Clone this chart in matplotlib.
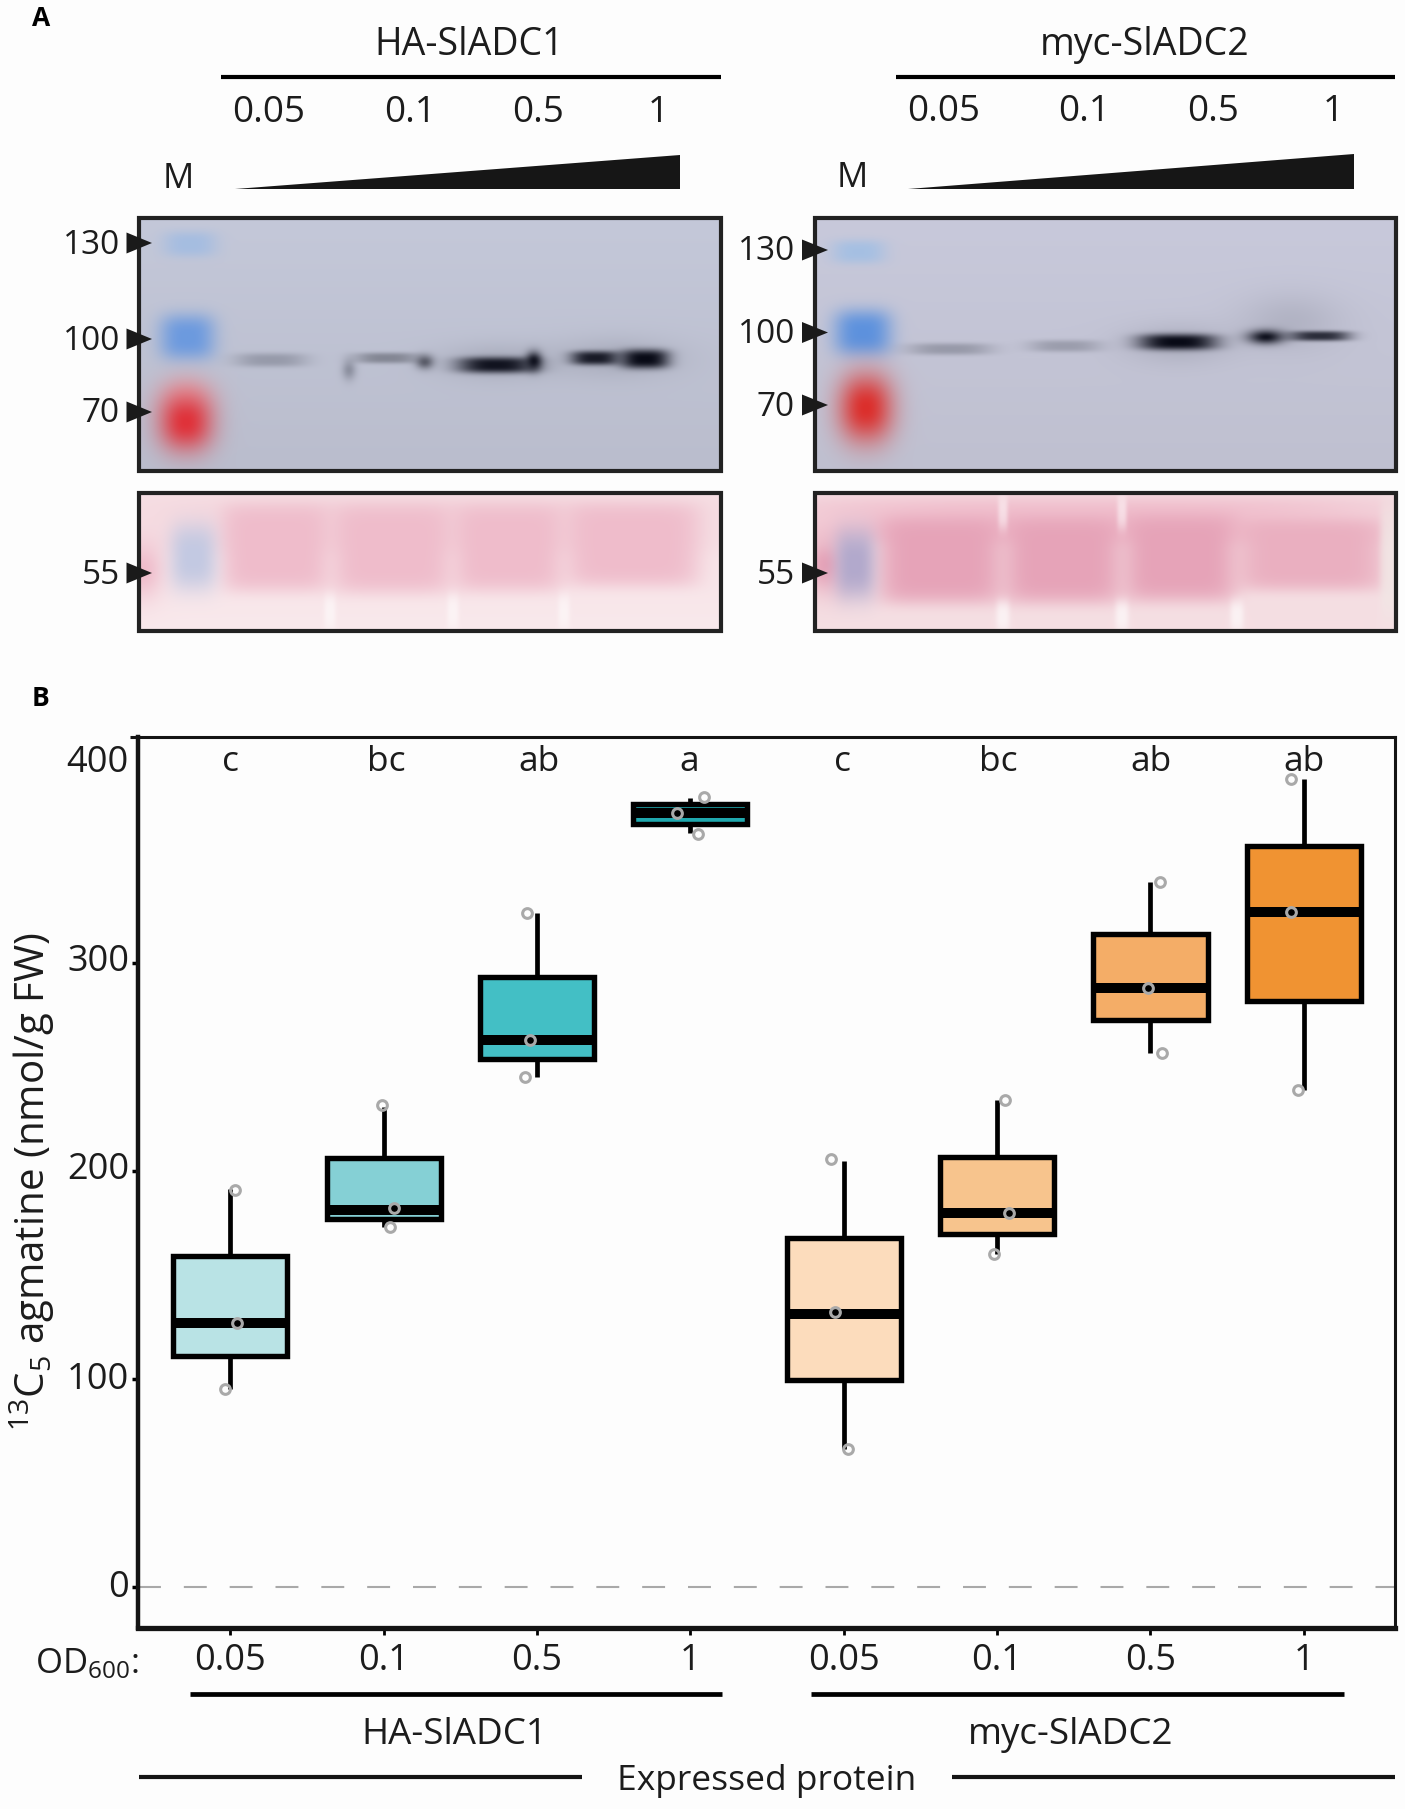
import numpy as np
import matplotlib
matplotlib.use("Agg")
import matplotlib.pyplot as plt
from matplotlib.colors import to_rgb
from matplotlib.patches import Polygon, Rectangle
from matplotlib.transforms import ScaledTranslation

plt.rcParams.update({
    "font.family": ["Open Sans", "DejaVu Sans"],
    "mathtext.fontset": "custom",
    "mathtext.rm": "Open Sans",
    "mathtext.default": "regular",
})

W, H = 1405, 1809
INK = "#1c1c1c"

# panel B values (nmol/g FW)
positions = [1, 2, 3, 4, 5, 6, 7, 8]
od_labels = ["0.05", "0.1", "0.5", "1", "0.05", "0.1", "0.5", "1"]
letters = ["c", "bc", "ab", "a", "c", "bc", "ab", "ab"]
letter_x = [1.0, 2.02, 3.015, 3.99, 4.995, 6.005, 7.005, 8.0]
q1 = [111, 177, 254, 367, 99.5, 169.5, 272.5, 282]
med = [127, 181.5, 263, 372, 131.5, 180, 288, 324.5]
q3 = [159, 206.5, 293.5, 376.5, 168, 207, 314, 356.5]
whislo = [95, 173, 245, 362.5, 66.5, 160, 257, 239]
whishi = [191.5, 231, 324, 379.5, 205, 234, 339, 388.5]
colors = ["#b9e3e5", "#85d0d5", "#43bfc5", "#1fa8ae", "#fcdcbc", "#f7c48d", "#f4ad67", "#f09332"]

point_x = [1.03, 1.045, 0.966, 1.987, 2.068, 2.043, 2.937, 2.952, 2.924, 4.09, 3.91, 4.05,
           4.917, 4.942, 5.03, 6.054, 6.08, 5.982, 7.062, 6.982, 7.076, 7.918, 7.918, 7.965]
point_y = [191, 127, 95, 232, 182, 173, 324, 263, 245, 380, 372, 362,
           206, 132, 66.5, 234, 180, 160, 339, 288, 257, 388.5, 324.5, 239]

# panel A labels
lane_labels = ["0.05", "0.1", "0.5", "1"]
ladder_labels = ["130", "100", "70"]


def render(ov, x0, x1, y0, y1, top, bottom, blobs):
    # fake the blot photo: a background gradient with soft blobs on top
    xx, yy = np.meshgrid(np.arange(x0, x1) + 0.5, np.arange(y0, y1) + 0.5)
    t = ((yy - y0) / (y1 - y0))[..., None]
    img = np.array(to_rgb(top)) * (1 - t) + np.array(to_rgb(bottom)) * t
    for cx, cy, sx, sy, col, a, p in blobs:
        m = a * np.exp(-((np.abs(xx - cx) / sx) ** p + (np.abs(yy - cy) / sy) ** p))[..., None]
        img = img * (1 - m) + np.array(to_rgb(col)) * m
    ov.imshow(img, extent=(x0, x1, y1, y0), aspect="auto", interpolation="bilinear", zorder=1)
    ov.add_patch(Rectangle((x0, y0), x1 - x0, y1 - y0, fill=False, ec="#222222", lw=3, zorder=3))


fig = plt.figure(figsize=(W / 100, H / 100), dpi=100, facecolor="#fdfdfd")

# overlay in picture pixels for panel A and the annotations
ov = fig.add_axes([0, 0, 1, 1], zorder=0)
ov.axis("off")

DARK = "#080a16"
render(ov, 139, 721, 218, 471, "#c4c8d9", "#babdcd", [
    (190, 244, 27, 13, "#a2bce2", 0.9, 3),
    (187.5, 337, 28, 23, "#6c9adf", 1, 3),
    (186, 396, 26, 20, "#e6a0a8", 0.75, 2),
    (186, 422, 27, 29, "#e0323a", 1, 2.2),
    (271, 360, 36, 7, "#7d8190", 0.6, 3),
    (349, 370, 7, 10, "#7d8190", 0.75, 2),
    (387, 358, 32, 5.5, "#70737f", 0.75, 3),
    (425, 362, 9, 7, "#4a4c58", 0.9, 2),
    (497, 362, 56, 18, "#9699a8", 0.5, 2),
    (497, 365, 39, 8, DARK, 0.95, 3),
    (534, 361, 8, 9, DARK, 1, 2),
    (617, 358, 60, 20, "#9699a8", 0.5, 2),
    (595, 358, 24, 7, DARK, 0.9, 3),
    (645, 359, 24, 9.5, DARK, 1, 3),
])
render(ov, 815, 1396, 218, 471, "#c8c9db", "#bfc0d0", [
    (858.7, 251.7, 27, 12, "#a2bfe4", 0.9, 3),
    (863, 332.5, 29, 23, "#5d92de", 1, 3),
    (866, 408, 27, 34, "#dc2f2c", 1, 2.2),
    (950, 349, 42, 6, "#7b7e8c", 0.6, 3),
    (1065, 346, 36, 6, "#7b7e8c", 0.55, 3),
    (1178, 344, 52, 20, "#9a9cac", 0.5, 2),
    (1178, 342, 39, 8, DARK, 1, 3),
    (1291, 322, 50, 28, "#a0a2b2", 0.5, 2),
    (1266, 337, 18, 7, DARK, 0.95, 2),
    (1320, 336, 30, 5, DARK, 0.8, 3),
])
PINK1 = "#efbccb"
render(ov, 139, 721, 493, 631, "#f6dfe4", "#f9e9ec", [
    (430, 525, 290, 28, "#f3d2da", 0.8, 4),
    (276, 548, 54, 44, PINK1, 1, 6),
    (392, 549, 61, 45, PINK1, 1, 6),
    (508, 548, 55, 44, PINK1, 1, 6),
    (632, 545, 68, 42, PINK1, 1, 6),
    (330, 612, 6, 18, "#ffffff", 0.5, 3),
    (453, 612, 6, 18, "#ffffff", 0.5, 3),
    (564, 612, 6, 18, "#ffffff", 0.5, 3),
    (143, 570, 20, 28, PINK1, 1, 2),
    (193.5, 557, 24, 34, "#c3c9e2", 1, 3),
])
PINK2 = "#e6a3b8"
render(ov, 815, 1396, 493, 631, "#f5dde2", "#f5dfe3", [
    (1090, 520, 310, 24, "#f0bccb", 0.9, 4),
    (941, 560, 63, 44, PINK2, 1, 6),
    (1063, 560, 60, 44, PINK2, 1, 6),
    (1180, 558, 57, 44, PINK2, 1, 6),
    (1310, 555, 76, 36, "#eaafc0", 1, 6),
    (1003, 512, 5, 18, "#ffffff", 0.5, 3),
    (1122, 512, 5, 18, "#ffffff", 0.5, 3),
    (1003, 616, 7, 16, "#ffffff", 0.6, 3),
    (1122, 616, 7, 16, "#ffffff", 0.6, 3),
    (1237, 616, 7, 16, "#ffffff", 0.6, 3),
    (825, 565, 20, 28, PINK2, 1, 2),
    (855, 564, 21, 36, "#b2a9cc", 1, 3),
    (1392, 560, 12, 60, "#f1e8e6", 0.8, 4),
])

ov.set_xlim(0, W)
ov.set_ylim(H, 0)

# panel A annotations
ov.text(41.5, 19, "A", fontsize=19, fontweight="bold", ha="center", va="center", color="black")
ov.text(41, 699, "B", fontsize=19, fontweight="bold", ha="center", va="center", color="black")
ov.text(469.6, 45, "HA-SlADC1", fontsize=27, ha="center", va="center", color=INK)
ov.text(1145, 45, "myc-SlADC2", fontsize=27, ha="center", va="center", color=INK)
ov.plot([221, 720.6], [77.4, 77.4], color="black", lw=3, solid_capstyle="butt")
ov.plot([895.6, 1395], [77, 77], color="black", lw=3, solid_capstyle="butt")
for lab, x1, x2 in zip(lane_labels, [269, 409.6, 538, 658], [943.6, 1084, 1213, 1333.7]):
    ov.text(x1, 113, lab, fontsize=26.5, ha="center", va="center", color=INK)
    ov.text(x2, 112, lab, fontsize=26.5, ha="center", va="center", color=INK)
ov.text(178.4, 179, "M", fontsize=25, ha="center", va="center", color=INK)
ov.text(852, 178, "M", fontsize=25, ha="center", va="center", color=INK)
ov.add_patch(Polygon([(234.5, 189.4), (679.6, 189.4), (679.6, 154.5)], fc="#161616", ec="none"))
ov.add_patch(Polygon([(908.4, 188.5), (1354, 188.5), (1354, 153.6)], fc="#161616", ec="none"))


def ladder(labels, ys, right, tip_from, tip_to):
    for lab, y in zip(labels, ys):
        ov.text(right, y + 2, lab, fontsize=24, ha="right", va="center", color=INK)
        ov.add_patch(Polygon([(tip_from, y - 10.5), (tip_from, y + 10.5), (tip_to, y)],
                             fc="#1a1a1a", ec="none", zorder=4))


ladder(ladder_labels + ["55"], [243, 339, 412, 573], 120, 126.5, 152)
ladder(ladder_labels + ["55"], [250, 332.5, 405, 573], 795, 802, 828)

# panel B
ax_l, ax_r, ax_t, ax_b = 138, 1395, 737, 1628
ax = fig.add_axes([ax_l / W, 1 - ax_b / H, (ax_r - ax_l) / W, (ax_b - ax_t) / H], zorder=2)
ax.patch.set_alpha(0)
ax.set_xlim(0.398, 8.595)
ax.set_ylim(-19.7, 408.7)

stats = [{"med": m, "q1": a, "q3": b, "whislo": lo, "whishi": hi}
         for m, a, b, lo, hi in zip(med, q1, q3, whislo, whishi)]
ax.axhline(0, color="#a9a9a9", lw=1.5, dashes=(11, 11), zorder=1)
parts = ax.bxp(stats, positions=positions, widths=0.745, patch_artist=True,
               showcaps=False, showfliers=False,
               boxprops={"edgecolor": "black", "linewidth": 3.9, "joinstyle": "miter"},
               medianprops={"color": "black", "linewidth": 7.2, "solid_capstyle": "butt"},
               whiskerprops={"color": "black", "linewidth": 3.4, "solid_capstyle": "butt"},
               zorder=2)
for box, c in zip(parts["boxes"], colors):
    box.set_facecolor(c)
ax.plot(point_x, point_y, ls="none", marker="o", ms=7, mew=2.2, mfc="none", mec="#a9a9a9",
        clip_on=False, zorder=5)

for x, lab in zip(letter_x, letters):
    ax.text(x, 392.5, lab, fontsize=25.5, ha="center", va="baseline", color=INK, zorder=4)

ax.set_xticks(positions, labels=od_labels)
ax.set_yticks([0, 100, 200, 300, 400])
ax.tick_params(axis="y", labelsize=26, length=4.5, width=2.5, pad=2, labelcolor=INK)
ax.tick_params(axis="x", labelsize=26, length=5, width=2, pad=6, labelcolor=INK)
ax.yaxis.get_major_ticks()[-1].tick1line.set_visible(False)
# the tick labels do not sit exactly level with their ticks in the original
for lab, dy in zip(ax.get_yticklabels(), [3.5, 3.5, 6, 6, -3.5]):
    lab.set_transform(lab.get_transform() + ScaledTranslation(0, dy / 100, fig.dpi_scale_trans))
ax.spines["left"].set_linewidth(3.2)
ax.spines["bottom"].set_linewidth(3.8)
ax.spines["top"].set_linewidth(2.2)
ax.spines["right"].set_linewidth(2.2)
for s in ax.spines.values():
    s.set_color("#141414")
ax.plot([-0.006, 0], [1, 1], transform=ax.transAxes, color="#141414", lw=2.2, clip_on=False,
        solid_capstyle="butt")

# text and rules under the axis
ov.text(32, 1182, r"$^{13}$C$_{5}$ agmatine (nmol/g FW)", fontsize=29, rotation=90,
        ha="center", va="center", color=INK)
ov.text(139, 1664, r"OD$_{600}$:", fontsize=25, ha="right", va="center", color=INK)
ov.plot([190, 722], [1694, 1694], color="black", lw=3.4, solid_capstyle="butt")
ov.plot([811, 1344], [1694, 1694], color="black", lw=3.4, solid_capstyle="butt")
ov.text(454, 1735, "HA-SlADC1", fontsize=26.5, ha="center", va="center", color=INK)
ov.text(1071, 1735, "myc-SlADC2", fontsize=26.5, ha="center", va="center", color=INK)
ov.plot([139, 582], [1777, 1777], color="#141414", lw=3, solid_capstyle="butt")
ov.plot([952, 1395], [1777, 1777], color="#141414", lw=3, solid_capstyle="butt")
ov.text(767, 1781, "Expressed protein", fontsize=25.5, ha="center", va="center", color=INK)

fig.savefig("out.png", dpi=100, facecolor=fig.get_facecolor())
